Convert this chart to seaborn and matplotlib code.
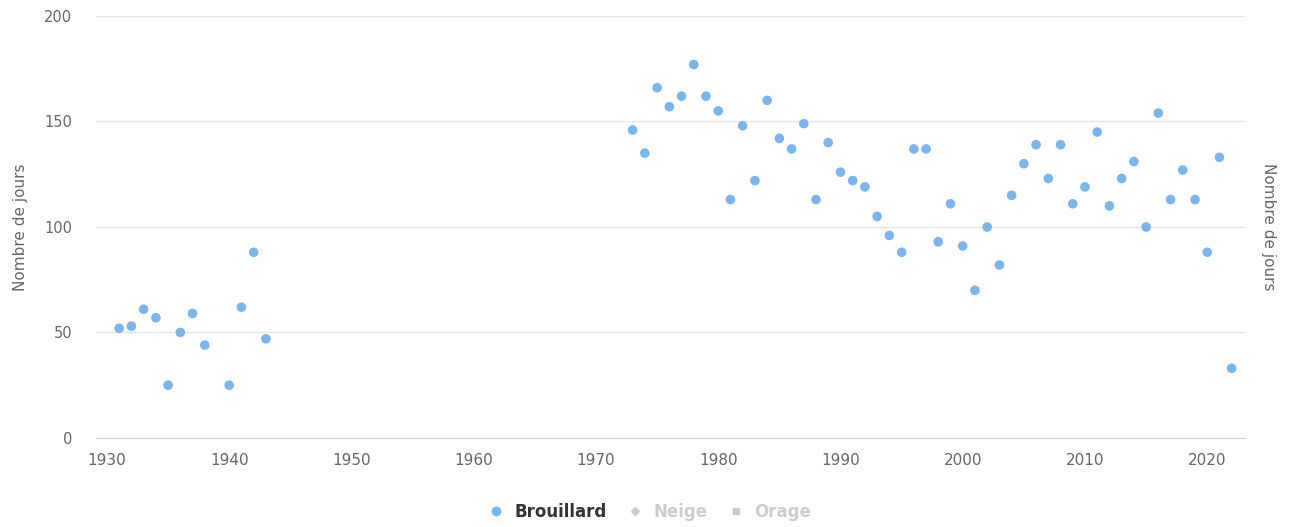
import matplotlib
matplotlib.use("Agg")
import matplotlib.pyplot as plt
import seaborn as sns
import pandas as pd
from matplotlib.lines import Line2D

# données
annees = [1931, 1932, 1933, 1934, 1935, 1936, 1937, 1938, 1940, 1941, 1942, 1943,
          1973, 1974, 1975, 1976, 1977, 1978, 1979, 1980, 1981, 1982, 1983, 1984,
          1985, 1986, 1987, 1988, 1989, 1990, 1991, 1992, 1993, 1994, 1995, 1996,
          1997, 1998, 1999, 2000, 2001, 2002, 2003, 2004, 2005, 2006, 2007, 2008,
          2009, 2010, 2011, 2012, 2013, 2014, 2015, 2016, 2017, 2018, 2019, 2020,
          2021, 2022]
brouillard = [52, 53, 61, 57, 25, 50, 59, 44, 25, 62, 88, 47,
              146, 135, 166, 157, 162, 177, 162, 155, 113, 148, 122, 160,
              142, 137, 149, 113, 140, 126, 122, 119, 105, 96, 88, 137,
              137, 93, 111, 91, 70, 100, 82, 115, 130, 139, 123, 139,
              111, 119, 145, 110, 123, 131, 100, 154, 113, 127, 113, 88,
              133, 33]
series = ["Brouillard", "Neige", "Orage"]
yticks = [0, 50, 100, 150, 200]
xticks = [1930, 1940, 1950, 1960, 1970, 1980, 1990, 2000, 2010, 2020]

df = pd.DataFrame({"annee": annees, "jours": brouillard})

sns.set_style("white")
plt.rcParams['font.family'] = ['DejaVu Sans']

fig = plt.figure(figsize=(12.97, 5.27), dpi=100)
ax = fig.add_axes([0.074, 0.169, 0.886, 0.8006])

sns.scatterplot(data=df, x="annee", y="jours", color="#7cb5ec", s=48,
                edgecolor="none", ax=ax, zorder=3)

ax.set_xlim(1929.1, 2023.1)
ax.set_ylim(0, 200)
ax.set_yticks(yticks)
ax.set_xticks(xticks)
ax.grid(axis="y", color="#e6e6e6", linewidth=1)
for s in ["top", "left", "right"]:
    ax.spines[s].set_visible(False)
ax.spines["bottom"].set_color("#ccd6eb")
ax.tick_params(axis="x", colors="#666666", length=10, width=1, color="#ccd6eb",
               labelsize=11, pad=1)
ax.tick_params(axis="y", colors="#666666", length=0, labelsize=10.5, pad=17)
ax.set_xlabel("")
ax.set_ylabel("Nombre de jours", color="#666666", fontsize=11, labelpad=12)

ax2 = ax.twinx()
ax2.set_ylim(0, 200)
ax2.set_yticks([])
for s in ax2.spines.values():
    s.set_visible(False)
ax2.set_ylabel("Nombre de jours", color="#666666", fontsize=11, rotation=270,
               labelpad=22)

handles = [
    Line2D([], [], marker="o", color="#7cb5ec", linestyle="none", markersize=6),
    Line2D([], [], marker="D", color="#cccccc", linestyle="none", markersize=4),
    Line2D([], [], marker="s", color="#cccccc", linestyle="none", markersize=5),
]
leg = fig.legend(handles, series, loc="center", bbox_to_anchor=(0.5, 0.028),
                 ncol=3, frameon=False, handlelength=1.2, handletextpad=0.5,
                 columnspacing=1.1, prop={"weight": "bold", "size": 12})
for t, c in zip(leg.get_texts(), ["#333333", "#cccccc", "#cccccc"]):
    t.set_color(c)

fig.savefig("out.png", dpi=100)
